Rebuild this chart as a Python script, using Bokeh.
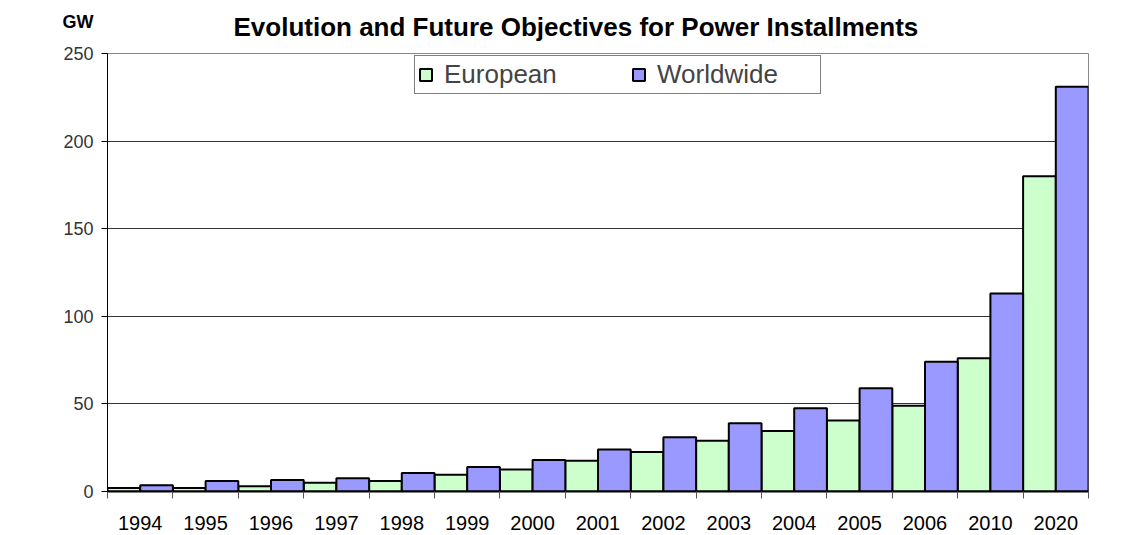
import numpy as np
from bokeh.plotting import figure
from bokeh.models import (Range1d, FixedTicker, ColumnDataSource, Legend, LegendItem, Label)
from bokeh.transform import dodge
from bokeh.embed import file_html
from bokeh.resources import INLINE

years = ["1994", "1995", "1996", "1997", "1998", "1999", "2000", "2001",
         "2002", "2003", "2004", "2005", "2006", "2010", "2020"]
european = [2, 2, 3, 5, 6, 9.5, 12.5, 17.5, 22.5, 29, 34.5, 40.5, 49, 76, 180]
worldwide = [3.5, 6, 6.5, 7.5, 10.5, 14, 18, 24, 31, 39, 47.5, 59, 74, 113, 231]
series_names = ["European", "Worldwide"]
y_ticks = [0, 50, 100, 150, 200, 250]
title_text = "Evolution and Future Objectives for Power Installments"
unit_text = "GW"

FONT = "Liberation Sans"
idx = np.arange(len(years))

p = figure(frame_width=981, frame_height=438, output_backend="svg",
           toolbar_location=None, x_range=Range1d(-0.5, len(years) - 0.5),
           y_range=Range1d(0, 250),
           min_border_left=107, min_border_right=47, min_border_top=53,
           min_border_bottom=44, background_fill_color="white",
           border_fill_color="white")

src = ColumnDataSource(dict(x=idx, eu=european, ww=worldwide))
r_eu = p.vbar(x=dodge("x", -0.25), top="eu", width=0.5, source=src,
              fill_color="#CCFFCC", line_color="black", line_width=2)
r_ww = p.vbar(x=dodge("x", 0.25), top="ww", width=0.5, source=src,
              fill_color="#9999FF", line_color="black", line_width=2)

# x axis
xt = FixedTicker(ticks=[int(i) for i in idx],
                 minor_ticks=[float(i) - 0.5 for i in range(len(years) + 1)])
p.xaxis.ticker = xt
p.xaxis.major_label_overrides = {int(i): y for i, y in zip(idx, years)}
p.xaxis.major_tick_out = 0
p.xaxis.major_tick_in = 0
p.xaxis.minor_tick_out = 7
p.xaxis.minor_tick_in = 0
p.xaxis.minor_tick_line_color = "#555555"
p.xaxis.axis_line_color = "black"
p.xaxis.axis_line_width = 2
p.xaxis.major_label_text_font = FONT
p.xaxis.major_label_text_font_size = "20px"
p.xaxis.major_label_text_color = "black"
p.xaxis.major_label_standoff = 17

# y axis
p.yaxis.ticker = FixedTicker(ticks=y_ticks, minor_ticks=[])
p.yaxis.major_tick_out = 6
p.yaxis.major_tick_in = 0
p.yaxis.major_tick_line_color = "black"
p.yaxis.axis_line_color = "black"
p.yaxis.major_label_text_font = FONT
p.yaxis.major_label_text_font_size = "18px"
p.yaxis.major_label_text_color = "#333333"
p.yaxis.major_label_standoff = 8

p.xgrid.grid_line_color = None
p.ygrid.ticker = FixedTicker(ticks=y_ticks[1:-1])
p.ygrid.grid_line_color = "#333333"
p.ygrid.grid_line_width = 1

p.outline_line_color = "#888888"
p.outline_line_width = 1

legend = Legend(items=[LegendItem(label=series_names[0], renderers=[r_eu]),
                       LegendItem(label=series_names[1], renderers=[r_ww])],
                orientation="horizontal", location=(307, 397),
                glyph_width=15, glyph_height=15, label_width=160,
                label_standoff=11, spacing=27, padding=3,
                label_text_font=FONT, label_text_font_size="26px",
                border_line_color="black", border_line_width=1,
                background_fill_color="white", background_fill_alpha=1,
                margin=0)
p.add_layout(legend)

p.add_layout(Label(x=126, y=27, x_units="screen", y_units="screen",
                   text=title_text, text_align="left", text_baseline="alphabetic",
                   text_font=FONT, text_font_size="26px",
                   text_font_style="bold", text_color="black"), "above")
p.add_layout(Label(x=-45, y=2, x_units="screen", y_units="screen",
                   text=unit_text, text_align="left", text_baseline="alphabetic",
                   text_font=FONT, text_font_size="18px",
                   text_font_style="bold", text_color="black"), "above")

open("out.html", "w").write(file_html(p, INLINE))
